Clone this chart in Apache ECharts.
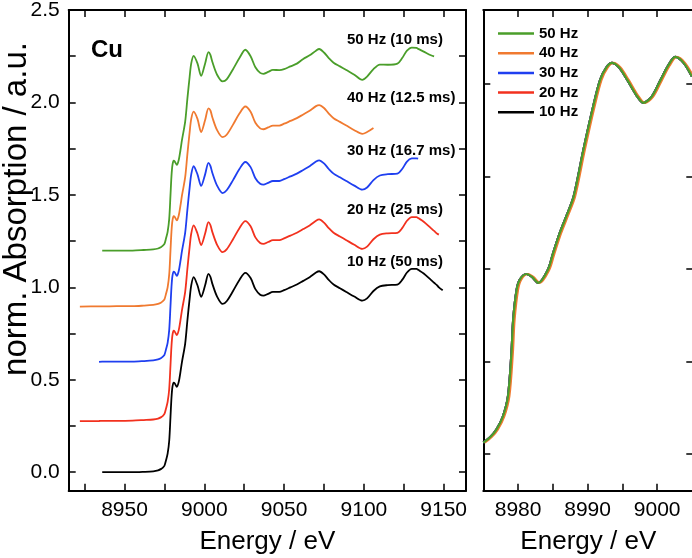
<!DOCTYPE html>
<html lang="en">
<head>
<meta charset="UTF-8">
<title>Cu K-edge XANES</title>
<script src="https://cdn.jsdelivr.net/npm/echarts@6/dist/echarts.min.js"></script>
<style>
    html, body { margin: 0; padding: 0; background: #fff; }
    #chart { width: 692px; height: 558px; }
</style>
</head>
<body>
<div id="chart"></div>
<script>
// energy grid (eV) shared by the stacked spectra of the left panel
var energy = [8922, 8934, 8936, 8945, 8955, 8962, 8968, 8971, 8973, 8974,
    8975, 8976, 8977, 8978, 8978.8, 8979.4, 8980, 8980.8, 8981.5, 8982.8,
    8984, 8985, 8986, 8988, 8989.4, 8990.8, 8991.8, 8993.3, 8995.7, 8998,
    9000.5, 9002.6, 9003.8, 9005, 9008, 9011.5, 9014, 9018, 9022, 9025.7,
    9029, 9032, 9035, 9037, 9040, 9043, 9047, 9050, 9054, 9058,
    9062, 9066, 9070, 9072, 9075, 9078, 9081, 9085, 9089, 9094,
    9099, 9102, 9106, 9110, 9115, 9121, 9124, 9127, 9130, 9133,
    9134, 9137.5, 9142, 9144, 9146, 9147, 9149.4];

// stacked spectra (already offset as in the figure), null = no data there
var abs10Hz = [null, null, 0.000, 0.000, 0.000, 0.002, 0.005, 0.010, 0.018, 0.025,
    0.035, 0.065, 0.100, 0.170, 0.300, 0.400, 0.460, 0.485, 0.480, 0.462,
    0.490, 0.540, 0.597, 0.696, 0.822, 0.939, 1.011, 1.055, 1.011, 0.949,
    1.011, 1.073, 1.057, 1.020, 0.950, 0.910, 0.925, 0.980, 1.040, 1.078,
    1.050, 0.990, 0.960, 0.955, 0.965, 0.975, 0.975, 0.985, 1.000, 1.015,
    1.035, 1.055, 1.080, 1.087, 1.070, 1.040, 1.015, 0.995, 0.975, 0.950,
    0.928, 0.940, 0.980, 1.005, 1.012, 1.015, 1.040, 1.080, 1.100, 1.100,
    1.095, 1.075, 1.040, 1.025, 1.010, 1.000, 0.984];
var abs20Hz = [0.276, 0.277, 0.278, 0.278, 0.279, 0.282, 0.285, 0.290, 0.298, 0.305,
    0.315, 0.345, 0.380, 0.450, 0.580, 0.680, 0.740, 0.765, 0.760, 0.742,
    0.770, 0.820, 0.877, 0.976, 1.102, 1.219, 1.291, 1.335, 1.291, 1.229,
    1.291, 1.353, 1.337, 1.300, 1.230, 1.190, 1.205, 1.260, 1.320, 1.358,
    1.330, 1.270, 1.240, 1.235, 1.245, 1.255, 1.255, 1.265, 1.280, 1.295,
    1.315, 1.335, 1.360, 1.367, 1.350, 1.320, 1.295, 1.275, 1.255, 1.230,
    1.208, 1.220, 1.260, 1.285, 1.292, 1.295, 1.320, 1.360, 1.380, 1.380,
    1.375, 1.355, 1.320, 1.305, 1.290, 1.285, null];
var abs30Hz = [null, 0.597, 0.598, 0.598, 0.598, 0.601, 0.605, 0.610, 0.618, 0.625,
    0.635, 0.665, 0.700, 0.770, 0.900, 1.000, 1.060, 1.085, 1.080, 1.062,
    1.090, 1.140, 1.197, 1.296, 1.422, 1.539, 1.611, 1.655, 1.611, 1.549,
    1.611, 1.673, 1.657, 1.620, 1.550, 1.510, 1.525, 1.580, 1.640, 1.678,
    1.650, 1.590, 1.560, 1.555, 1.565, 1.575, 1.575, 1.585, 1.600, 1.615,
    1.635, 1.655, 1.680, 1.687, 1.670, 1.640, 1.615, 1.595, 1.575, 1.550,
    1.528, 1.540, 1.580, 1.605, 1.612, 1.615, 1.640, 1.680, 1.697, 1.698,
    1.696, null, null, null, null, null, null];
var abs40Hz = [0.896, 0.897, 0.897, 0.898, 0.898, 0.901, 0.905, 0.910, 0.918, 0.925,
    0.935, 0.965, 1.000, 1.070, 1.200, 1.300, 1.360, 1.385, 1.380, 1.362,
    1.390, 1.440, 1.497, 1.596, 1.722, 1.839, 1.911, 1.950, 1.911, 1.840,
    1.905, 1.968, 1.957, 1.920, 1.850, 1.812, 1.825, 1.880, 1.940, 1.978,
    1.950, 1.890, 1.860, 1.855, 1.865, 1.875, 1.875, 1.885, 1.900, 1.915,
    1.935, 1.955, 1.980, 1.985, 1.970, 1.940, 1.915, 1.895, 1.875, 1.850,
    1.830, 1.840, 1.862, null, null, null, null, null, null, null,
    null, null, null, null, null, null, null];
var abs50Hz = [null, null, 1.198, 1.198, 1.199, 1.202, 1.205, 1.210, 1.218, 1.225,
    1.235, 1.265, 1.300, 1.370, 1.500, 1.600, 1.660, 1.685, 1.680, 1.662,
    1.690, 1.740, 1.797, 1.896, 2.022, 2.139, 2.211, 2.252, 2.211, 2.144,
    2.211, 2.272, 2.257, 2.220, 2.150, 2.114, 2.125, 2.180, 2.240, 2.285,
    2.250, 2.190, 2.160, 2.155, 2.165, 2.176, 2.175, 2.180, 2.195, 2.210,
    2.235, 2.255, 2.280, 2.289, 2.270, 2.240, 2.215, 2.195, 2.175, 2.150,
    2.122, 2.140, 2.180, 2.205, 2.204, 2.210, 2.240, 2.280, 2.297, 2.295,
    2.290, 2.275, 2.255, 2.249, null, null, null];

// edge region, not offset (right panel)
var zoomEnergy = [8975, 8976, 8976.9, 8977.8, 8978.55, 8979.05, 8979.3, 8979.8, 8980.25, 8981.2,
    8982, 8982.9, 8984.3, 8985, 8986, 8987, 8988, 8989.4, 8990.8, 8991.8,
    8992.7, 8993.5, 8994.5, 8995.7, 8997, 8998, 8999.2, 9000.5, 9001.6, 9002.6,
    9003.8, 9005];
var zoomEnergy40 = [8975.2, 8976.2, 8977.1, 8978.0, 8978.75, 8979.25, 8979.5, 8980.0, 8980.45, 8981.4,
    8982.2, 8983.1, 8984.5, 8985.2, 8986.2, 8987.2, 8988.2, 8989.6, 8991.0, 8992.0,
    8992.9, 8993.7, 8994.7, 8995.9, 8997.2, 8998.2, 8999.4, 9000.7, 9001.8, 9002.8,
    9004.0, 9005.2];
var zoomAbs = [0.030, 0.045, 0.066, 0.100, 0.156, 0.273, 0.363, 0.444, 0.471, 0.486,
    0.478, 0.462, 0.498, 0.540, 0.597, 0.645, 0.696, 0.822, 0.939, 1.011,
    1.045, 1.057, 1.045, 1.011, 0.970, 0.949, 0.965, 1.011, 1.050, 1.073,
    1.057, 1.020];

var names = ['10 Hz', '20 Hz', '30 Hz', '40 Hz', '50 Hz'];
var stackLabels = ['10 Hz (50 ms)', '20 Hz (25 ms)', '30 Hz (16.7 ms)', '40 Hz (12.5 ms)', '50 Hz (10 ms)'];
var colors = ['#000000', '#f2311e', '#1f3ff0', '#f07a30', '#4a9e2a'];

var leftTicksX = [8925, 8950, 8975, 9000, 9025, 9050, 9075, 9100, 9125, 9150];
var leftLabelsX = [8950, 9000, 9050, 9100, 9150];
var leftTicksY = [0, 0.25, 0.5, 0.75, 1, 1.25, 1.5, 1.75, 2, 2.25];
var leftLabelsY = [0, 0.5, 1, 1.5, 2, 2.5];
var rightTicksX = [8980, 8985, 8990, 8995, 9000];
var rightLabelsX = [8980, 8990, 9000];
var rightTicksY = [0, 0.25, 0.5, 0.75, 1];

var FONT = '"Liberation Sans", Arial, Helvetica, sans-serif';

function pairs(xs, ys) {
    var out = [];
    for (var i = 0; i < xs.length; i++) {
        if (ys[i] != null) out.push([xs[i], ys[i]]);
    }
    return out;
}

function axis(grid, pos, min, max, ticks, labels, fmt) {
    return {
        type: 'value', gridIndex: grid, position: pos, min: min, max: max,
        axisLine: { show: true, onZero: false, lineStyle: { color: '#000', width: 2 } },
        axisTick: { show: true, inside: true, length: 7, customValues: ticks,
            lineStyle: { color: '#000', width: 1.5 } },
        axisLabel: labels ? { show: true, customValues: labels, color: '#000', fontSize: 21,
            fontFamily: FONT, margin: 9, formatter: fmt } : { show: false },
        splitLine: { show: false }
    };
}

var chart = echarts.init(document.getElementById('chart'));

var xBottomLeft = axis(0, 'bottom', 8915, 9164, leftTicksX, leftLabelsX, function (v) { return String(v); });
xBottomLeft.name = 'Energy / eV';
xBottomLeft.nameLocation = 'middle';
xBottomLeft.nameGap = 38;
xBottomLeft.nameTextStyle = { fontSize: 26, fontFamily: FONT, color: '#000' };

var yLeft = axis(0, 'left', -0.1, 2.5, leftTicksY, leftLabelsY, function (v) { return v.toFixed(1); });

var xBottomRight = axis(1, 'bottom', 8975, 9005.2, rightTicksX, rightLabelsX, function (v) { return String(v); });
xBottomRight.name = 'Energy / eV';
xBottomRight.nameLocation = 'middle';
xBottomRight.nameGap = 38;
xBottomRight.nameTextStyle = { fontSize: 26, fontFamily: FONT, color: '#000' };

var series = [];
var stacked = [abs10Hz, abs20Hz, abs30Hz, abs40Hz, abs50Hz];
for (var i = 0; i < 5; i++) {
    series.push({
        name: names[i], type: 'line', xAxisIndex: 0, yAxisIndex: 0,
        data: pairs(energy, stacked[i]), showSymbol: false, symbol: 'none', smooth: 0.3,
        lineStyle: { color: colors[i], width: 1.8 }, itemStyle: { color: colors[i] },
        animation: false
    });
}
for (var j = 0; j < 5; j++) {
    series.push({
        name: names[j], type: 'line', xAxisIndex: 2, yAxisIndex: 2,
        data: pairs(j === 3 ? zoomEnergy40 : zoomEnergy, zoomAbs),
        showSymbol: false, symbol: 'none', smooth: 0.3,
        lineStyle: { color: colors[j], width: 2.2 }, itemStyle: { color: colors[j] },
        animation: false
    });
}

// text labels next to the stacked curves
var labelY = [262, 210, 151, 98, 40];
var graphics = [{
    type: 'text', x: 91, y: 50,
    style: { text: 'Cu', font: 'bold 24px ' + FONT, fill: '#000', verticalAlign: 'middle' }
}, {
    // y axis title, not centred on the axis in the original
    type: 'text', x: 17, y: 209, rotation: Math.PI / 2,
    style: { text: 'norm. Absorption / a.u.', font: '33px ' + FONT, fill: '#000',
        align: 'center', verticalAlign: 'middle' }
}];
for (var k = 0; k < 5; k++) {
    graphics.push({
        type: 'text', x: 347, y: labelY[k],
        style: { text: stackLabels[k], font: 'bold 15px ' + FONT, fill: '#000', verticalAlign: 'middle' }
    });
}

var option = {
    backgroundColor: '#fff',
    animation: false,
    grid: [
        { left: 68.7, top: 10, width: 397.3, height: 480.7, containLabel: false, outerBoundsMode: 'none' },
        { left: 483.3, top: 10, width: 210, height: 480.7, containLabel: false, outerBoundsMode: 'none' }
    ],
    legend: {
        data: ['50 Hz', '40 Hz', '30 Hz', '20 Hz', '10 Hz'],
        orient: 'vertical', left: 493, top: 21,
        icon: 'rect', itemWidth: 36, itemHeight: 2.5, itemGap: 4.7,
        selectedMode: false,
        textStyle: { fontSize: 15, fontWeight: 'bold', fontFamily: FONT, color: '#000' }
    },
    xAxis: [
        xBottomLeft,
        axis(0, 'top', 8915, 9164, leftTicksX, null),
        xBottomRight,
        axis(1, 'top', 8975, 9005.2, rightTicksX, null)
    ],
    yAxis: [
        yLeft,
        axis(0, 'right', -0.1, 2.5, leftTicksY, null),
        axis(1, 'left', -0.1, 1.2, rightTicksY, null),
        axis(1, 'right', -0.1, 1.2, rightTicksY, null)
    ],
    graphic: graphics,
    series: series
};

chart.setOption(option);
</script>
</body>
</html>
